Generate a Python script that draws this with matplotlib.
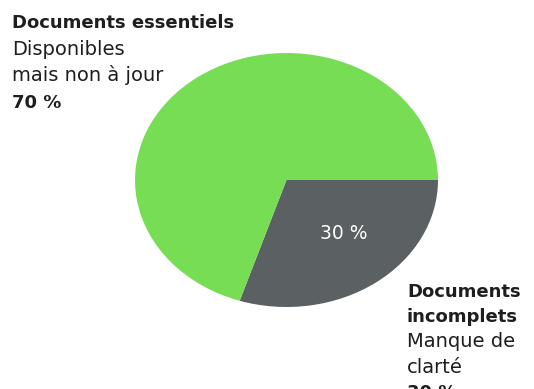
import matplotlib.pyplot as plt

# data
labels = ["Documents incomplets", "Documents essentiels"]
shares = [30, 70]
colors = ["#5b6063", "#76dd55"]

left_lines = [("Documents essentiels", "bold"), ("Disponibles", "normal"),
              ("mais non à jour", "normal"), ("70 %", "bold")]
right_lines = [("Documents", "bold"), ("incomplets", "bold"),
               ("Manque de", "normal"), ("clarté", "normal"), ("30 %", "bold")]

W, H = 534, 389
plt.rcParams["font.family"] = ["DejaVu Sans"]
fig = plt.figure(figsize=(W / 100, H / 100), dpi=100)

# pie is stretched into an ellipse, so aspect is left free
ax = fig.add_axes([135 / W, 1 - 307 / H, 303 / W, 254 / H])
wedges, _ = ax.pie(shares, colors=colors, startangle=0, counterclock=False,
                   radius=1, wedgeprops=dict(linewidth=0))
ax.set_xlim(-1, 1)
ax.set_ylim(-1, 1)
ax.set_aspect("auto")
ax.axis("off")

ax.text(0.38, -0.42, f"{shares[0]} %", color="white", fontsize=13.5,
        ha="center", va="center")

txt = "#1e1e1e"
size = {"bold": 13, "normal": 14}
for i, (s, w) in enumerate(left_lines):
    fig.text(12 / W, 1 - (28 + i * 26.7) / H, s, fontsize=size[w], fontweight=w,
             color=txt, ha="left", va="baseline")
for i, (s, w) in enumerate(right_lines):
    fig.text(407 / W, 1 - (297 + i * 25.2) / H, s, fontsize=size[w], fontweight=w,
             color=txt, ha="left", va="baseline")

fig.savefig("out.png", dpi=100, facecolor="white")
